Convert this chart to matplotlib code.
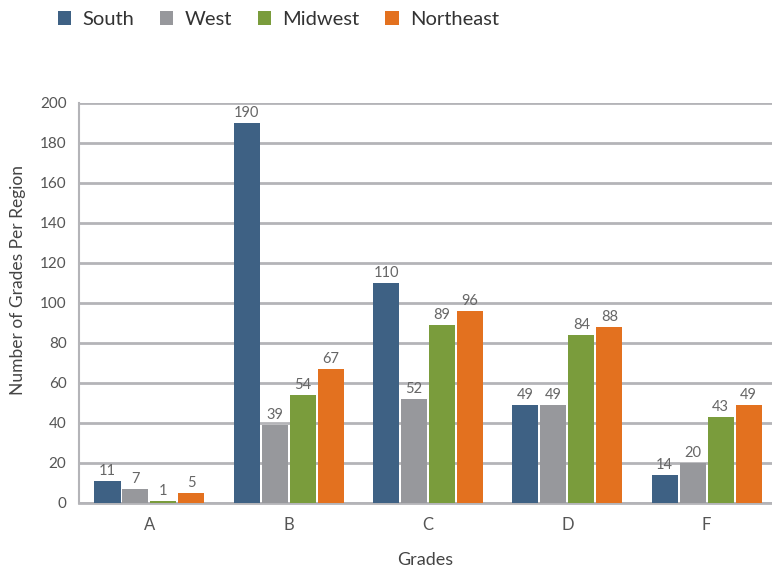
import matplotlib
matplotlib.use("Agg")
import matplotlib.pyplot as plt
import numpy as np

grades = ["A", "B", "C", "D", "F"]
regions = ["South", "West", "Midwest", "Northeast"]
south = [11, 190, 110, 49, 14]
west = [7, 39, 52, 49, 20]
midwest = [1, 54, 89, 84, 43]
northeast = [5, 67, 96, 88, 49]
yticks = [0, 20, 40, 60, 80, 100, 120, 140, 160, 180, 200]

colors = ["#3e6184", "#97989c", "#7a9c3c", "#e3711f"]
series = [south, west, midwest, northeast]

plt.rcParams['font.family'] = ['Lato', 'DejaVu Sans']

fig = plt.figure(figsize=(7.72, 5.71), dpi=100)
W, H = 772, 571
left, right, bottom, top = 79, 772, 503, 103
ax = fig.add_axes([left / W, 1 - bottom / H, (right - left) / W, (bottom - top) / H])

x = np.arange(len(grades))
width = 0.187
step = 0.201
handles = []
for k, (vals, c, name) in enumerate(zip(series, colors, regions)):
    pos = x + (k - 1.5) * step
    b = ax.bar(pos, vals, width=width, color=c, label=name, zorder=3)
    handles.append(b)
    for p, v in zip(pos, vals):
        ax.annotate(str(v), (p, v), xytext=(0, 2), textcoords="offset points",
                    ha="center", va="bottom", fontsize=10.5, color="#666666",
                    zorder=4)

ax.set_xlim(-0.506, 4.47)
ax.set_ylim(0, 200)
ax.set_yticks(yticks)
ax.set_xticks(x)
ax.set_xticklabels(grades)
ax.grid(axis="y", color="#b4b4b8", linewidth=2.0, zorder=0)
ax.set_axisbelow(True)
for s in ["top", "right"]:
    ax.spines[s].set_visible(False)
ax.spines["left"].set_color("#b4b4b8")
ax.spines["left"].set_linewidth(1.5)
ax.spines["bottom"].set_color("#b4b4b8")
ax.spines["bottom"].set_linewidth(2.0)
ax.tick_params(axis="both", length=0, labelcolor="#555555")
ax.tick_params(axis="y", labelsize=11, pad=9)
ax.tick_params(axis="x", labelsize=12, pad=10)

ax.set_ylabel("Number of Grades Per Region", fontsize=12.5, color="#444444")
ax.yaxis.set_label_coords(-0.077, 0.5575)
ax.set_xlabel("Grades", fontsize=13, color="#444444", labelpad=14)

leg = fig.legend(handles=handles, labels=regions, loc="upper left",
                 bbox_to_anchor=(50 / W, 1 - 3 / H), ncol=4, frameon=False,
                 fontsize=14.5, handlelength=0.65, handleheight=0.65,
                 handletextpad=0.55, columnspacing=1.3, borderaxespad=0)
for t in leg.get_texts():
    t.set_color("#333333")

fig.savefig("out.png", dpi=100)
